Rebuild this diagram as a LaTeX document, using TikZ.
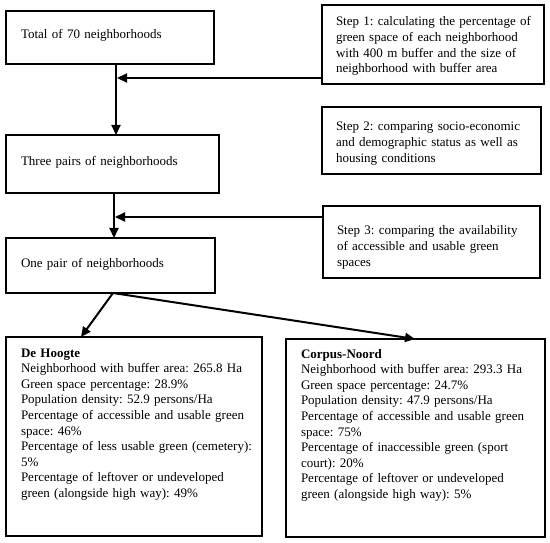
\documentclass[tikz,border=0pt]{standalone}
\usepackage{fontspec}
\setmainfont{Liberation Serif}
\usetikzlibrary{arrows.meta,calc}
\tikzset{
  box/.style={draw, line width=1.5pt, rectangle, anchor=north west, outer sep=0pt,
    inner ysep=0pt, align=left, font=\fontsize{13}{15.6}\selectfont\frenchspacing},
  arr/.style={line width=2pt, -{Triangle[length=10pt,width=9pt]}}
}
\begin{document}
\begin{tikzpicture}[x=1pt,y=-1pt]
\fill[white] (0,0) rectangle (550,543);
\useasboundingbox (0,0) rectangle (550,543);
\node[box, inner xsep=15pt, text width=178pt, text height=28pt, text depth=25pt] (b1) at (6,11) {Total of 70 neighborhoods};
\node[box, inner xsep=15pt, text width=183pt, text height=30pt, text depth=28pt] (b2) at (6,135) {Three pairs of neighborhoods};
\node[box, inner xsep=15pt, text width=179pt, text height=29pt, text depth=26pt] (b3) at (6,238) {One pair of neighborhoods};
\node[box, inner xsep=14pt, text width=194pt, text height=21pt, text depth=58pt] (s1) at (322,5) {\mbox{Step 1: calculating the percentage of}\\\mbox{green space of each neighborhood}\\\mbox{with 400 m buffer and the size of}\\\mbox{neighborhood with buffer area}};
\node[box, inner xsep=14pt, text width=191pt, text height=24pt, text depth=43pt] (s2) at (322,107) {\mbox{Step 2: comparing socio-economic}\\\mbox{and demographic status as well as}\\housing conditions};
\node[box, inner xsep=14pt, text width=189pt, text height=29pt, text depth=43pt] (s3) at (323,206) {\mbox{Step 3: comparing the availability}\\\mbox{of accessible and usable green}\\spaces};
\node[box, inner xsep=15pt, text width=226pt, text height=20pt, text depth=179pt] (h) at (6,337) {\textbf{De Hoogte}\\\mbox{Neighborhood with buffer area: 265.8 Ha}\\Green space percentage: 28.9\%\\Population density: 52.9 persons/Ha\\\mbox{Percentage of accessible and usable green}\\space: 46\%\\\mbox{Percentage of less usable green (cemetery):}\\5\%\\\mbox{Percentage of leftover or undeveloped}\\\mbox{green (alongside high way): 49\%}};
\node[box, inner xsep=15pt, text width=229pt, text height=19pt, text depth=179pt] (c) at (286,339) {\textbf{Corpus-Noord}\\\mbox{Neighborhood with buffer area: 293.3 Ha}\\Green space percentage: 24.7\%\\Population density: 47.9 persons/Ha\\\mbox{Percentage of accessible and usable green}\\space: 75\%\\\mbox{Percentage of inaccessible green (sport}\\court): 20\%\\\mbox{Percentage of leftover or undeveloped}\\\mbox{green (alongside high way): 5\%}};
\coordinate (j1) at (117,78);
\coordinate (j2) at (115,217);
\draw[arr] ([xshift=6pt]b1.south) -- ([xshift=3.5pt]b2.north);
\draw[arr] ([yshift=-33.5pt]s1.west) -- (j1);
\draw[arr] ([xshift=1.5pt]b2.south) -- ([xshift=3.5pt]b3.north);
\draw[arr] ([yshift=25pt]s3.west) -- (j2);
\draw[arr] ([xshift=2.5pt]b3.south) -- ([xshift=-53pt]h.north);
\draw[arr] ([xshift=2.5pt]b3.south) -- ([xshift=-0.5pt]c.north);
\end{tikzpicture}
\end{document}
